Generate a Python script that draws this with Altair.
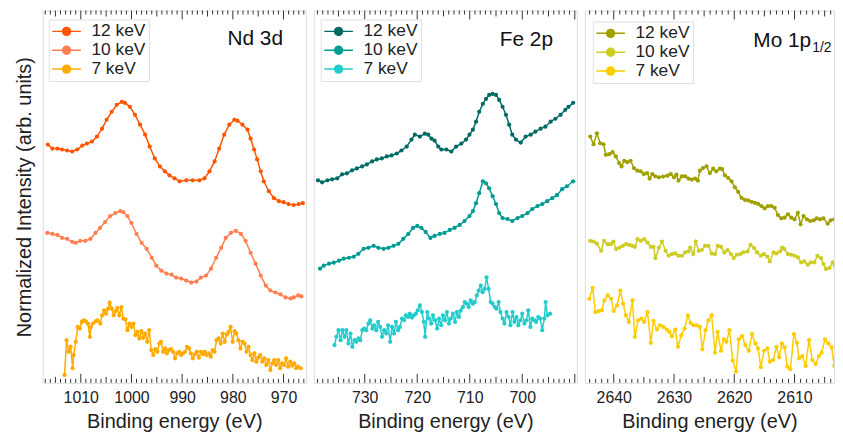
import altair as alt
import pandas as pd

FONT = "Liberation Sans"
H = 375
W = 265
W3 = 251
SERIES = ["12 keV", "10 keV", "7 keV"]

# ---------------- Nd 3d ----------------
nd_12 = [(1016.5,240),(1015.6,236),(1014.6,236),(1013.7,235),(1012.7,234),(1011.7,233),(1010.7,235),
         (1009.7,239),(1008.8,241),(1007.8,243),(1006.8,248),(1005.8,256),(1004.9,265),(1003.9,273),
         (1002.9,280),(1001.9,283),(1001.3,282),(1000.3,278),(999.3,270),(998.3,260),(997.3,250),
         (996.4,238),(995.4,226),(994.4,218),(993.4,213),(992.5,209),(991.5,206),(990.5,203),(989.2,204),
         (987.9,204),(986.6,204),(985.6,206),(984.6,213),(983.6,223),(982.7,236),(981.7,250),(980.7,260),
         (979.7,265),(979.1,264),(978.1,260),(977.1,255),(976.5,246),(975.8,235),(975.2,225),(974.5,213),
         (973.9,203),(972.9,193),(971.9,186),(970.9,183),(970.0,182),(969.0,180),(968.0,179),(967.0,180),
         (966.2,181)]
nd_10 = [(1016.6,151),(1015.6,150),(1014.6,149),(1013.7,146),(1012.7,145),(1011.7,142),(1011.0,141),
         (1010.1,143),(1009.1,143),(1008.1,145),(1007.1,151),(1006.2,156),(1005.2,162),(1004.2,168),
         (1003.2,171),(1002.2,173),(1001.6,172),(1000.8,168),(1000.0,161),(999.0,150),(998.0,141),
         (997.0,135),(996.0,126),(995.1,118),(994.1,113),(993.1,110),(992.1,109),(991.2,106),(990.2,105),
         (989.2,103),(988.2,101),(987.2,102),(986.3,106),(985.3,108),(984.3,115),(983.3,126),(982.3,136),
         (981.4,146),(980.4,151),(979.4,153),(978.4,150),(977.5,143),(976.5,131),(975.5,120),(974.5,108),
         (973.5,98),(972.6,93),(971.6,91),(970.6,89),(969.6,86),(968.6,85),(968.0,86),(967.1,88),(966.5,87)]
nd_7_E = [1013.2,1012.8,1012.4,1012.0,1011.6,1011.4,1011.0,1010.6,1010.2,1009.8,
          1009.4,1009.0,1008.6,1008.2,1008.0,1007.6,1007.1,1006.7,1006.15,1005.8,
          1005.4,1005.0,1004.6,1004.3,1003.9,1003.5,1003.15,1002.8,1002.4,1002.0,
          1001.6,1001.2,1000.8,1000.4,1000.0,999.6,999.2,998.8,998.45,998.05,
          997.7,997.3,996.9,996.5,996.1,995.7,995.3,994.9,994.5,994.15,
          993.75,993.35,993.0,992.6,992.2,991.8,991.4,991.0,990.6,990.2,
          989.85,989.45,989.05,988.65,988.3,987.9,987.5,987.1,986.7,986.3,
          985.9,985.55,985.15,984.75,984.35,984.0,983.6,983.2,982.8,982.4,
          982.0,981.6,981.2,980.85,980.45,980.05,979.65,979.3,978.9,978.5,
          978.1,977.7,977.3,976.9,976.5,976.15,975.75,975.35,975.0,974.6,
          974.2,973.8,973.4,973.0,972.6,972.2,971.85,971.45,971.05,970.65,
          970.3,969.9,969.5,969.1,968.7,968.3,967.9,967.5,967.15,966.6]
nd_7_I = [8,43,31.3,36.3,14.7,28,41.3,56.3,54.7,61.3,
          63,62,59.7,46.3,56.3,59.7,62,63,59.7,68,
          73,69.7,74.7,80.7,74.7,68,72,75.3,68,76.3,
          64.7,64,53,59.7,56.3,59.7,48,51.3,44.7,52,
          45.3,49.7,41.3,53,33,28,34,31.3,39.7,41.3,
          31.3,34.7,29.7,33,34,31.3,24.7,29.7,31.3,28,
          29.7,31.3,36.3,34.7,29.7,24.7,28.7,31.3,25.3,31.3,
          28.7,31.3,28,29.7,26.3,33,31.3,43,44.7,39.7,
          49.7,41.3,48.7,51.3,56.3,41.3,52,49.7,43,34.7,
          41.3,39.7,31.3,36.3,28,23,29.7,21.3,25.3,28,
          21.3,24.7,18,23,13,19.7,23,18,23,14.7,
          19.7,18,24.7,16.3,21.3,17.3,19.7,14.7,16.3,14.7]

# ---------------- Fe 2p ----------------
fe_12 = [(738.9,204),(738.1,202),(737.1,204),(736.2,205),(735.25,206),(734.3,210),(733.4,211),(732.4,214),
         (731.5,216),(730.5,218),(729.6,220),(728.6,223),(727.7,225),(726.75,226),(725.8,228),(724.9,229),
         (723.9,231),(723.0,234),(722.0,238),(721.1,245),(720.45,250),(719.5,248),(718.55,251),(717.9,250),
         (717.3,246),(716.7,244),(716.0,238),(715.4,235),(714.45,235),(713.5,233),(712.6,238),(711.6,241),
         (710.7,245),(710.05,250),(709.4,255),(708.8,263),(708.2,273),(707.5,281),(706.9,286),(706.3,290),
         (705.65,291),(705.0,290),(704.4,285),(703.75,278),(703.1,270),(702.5,260),(701.9,250),(701.2,245),
         (700.3,242),(699.35,248),(698.4,250),(697.5,253),(696.5,256),(695.6,258),(694.6,263),(693.7,266),
         (692.7,270),(691.8,275),(691.2,278),(690.3,282)]
fe_10 = [(738.5,115),(737.8,118),(736.8,120),(735.9,121),(734.9,123),(734.0,125),(733.0,126),(732.1,127),
         (731.2,130),(730.2,135),(729.3,136),(728.3,138),(727.4,136),(726.4,135),(725.5,136),(724.5,138),
         (723.6,140),(722.65,145),(721.7,150),(720.8,156),(720.0,158),(719.2,156),(718.4,152),(717.5,146),
         (716.7,148),(715.7,150),(714.8,151),(713.8,154),(712.9,156),(711.9,159),(711.0,163),(710.05,168),
         (709.4,173),(708.8,181),(708.2,191),(707.5,203),(706.9,201),(706.3,196),(705.65,188),(705.0,180),
         (704.4,171),(703.75,166),(702.8,165),(701.9,163),(700.9,166),(700.0,168),(699.0,171),(698.1,175),
         (697.1,178),(696.2,180),(695.25,183),(694.3,186),(693.4,189),(692.4,195),(691.5,198),(690.3,203)]
fe_7_E = [735.75,735.4,735.0,734.6,734.25,733.85,733.5,733.1,732.7,732.35,
          731.95,731.6,731.2,730.85,730.45,730.1,729.7,729.3,728.95,728.55,
          728.2,727.8,727.45,727.05,726.7,726.3,725.9,725.55,725.15,724.8,
          724.4,724.05,723.65,723.3,722.9,722.5,722.15,721.75,721.4,721.0,
          720.65,720.25,719.9,719.5,719.1,718.75,718.5,718.1,717.75,717.35,
          717.0,716.6,716.2,715.85,715.45,715.1,714.7,714.35,713.95,713.6,
          713.2,712.8,712.45,712.05,711.7,711.3,710.95,710.55,710.2,709.8,
          709.4,709.05,708.65,708.3,707.9,707.55,707.15,706.8,706.4,706.0,
          705.65,705.25,704.9,704.5,704.15,703.75,703.4,703.0,702.6,702.25,
          701.85,701.5,701.1,700.75,700.35,700.0,699.6,699.2,698.85,698.45,
          698.1,697.7,697.35,696.95,696.6,696.2,695.8,695.55,695.2,694.7]
fe_7_I = [38,46.3,53,43,53,46.3,53,39.7,49.7,36.3,
          43,41.3,44.7,43,53,54.7,53,59.7,63,54.7,
          58,53,61.3,56.3,46.3,53,49.7,58,41.3,56.3,
          49.7,61.3,53,56.3,64.7,63,68,66.3,69.7,65.7,
          68,69.7,73,78,71.3,61.3,46.3,71.3,64.7,59.7,
          68,63,54.7,64.7,58,68,63,71.3,59.7,64.7,
          69.7,61.3,71.3,66.3,73,76.3,81.3,79.7,76.3,83,
          79.7,81.3,88,93,98,91.3,94.7,106.3,94.7,81.3,
          79.7,76.3,74.7,81.3,71.3,64.7,59.7,71.3,66.3,58,
          71.3,61.3,66.3,58,63,69.7,59.7,63,73,56.3,
          64.7,63,61.3,66.3,64.7,53,64.7,81.3,68,69.7]

# ---------------- Mo 1p1/2 ----------------
mo_12_E = [2643.9,2643.35,2642.8,2642.25,2641.7,2641.3,2640.75,2640.2,2639.65,2639.1,
           2638.7,2638.25,2637.75,2637.2,2636.65,2636.1,2635.55,2635.0,2634.45,2634.05,
           2633.6,2633.1,2632.5,2631.8,2631.1,2630.55,2630.0,2629.6,2629.25,2628.7,
           2628.15,2627.6,2627.05,2626.5,2626.05,2625.7,2625.2,2624.6,2624.05,2623.5,
           2623.0,2622.4,2622.0,2621.55,2621.0,2620.45,2619.9,2619.35,2618.8,2618.25,
           2617.7,2617.15,2616.6,2616.05,2615.5,2614.95,2614.4,2613.85,2613.3,2612.75,
           2612.2,2611.65,2611.1,2610.55,2610.0,2609.45,2609.0,2608.5,2607.95,2607.4,
           2606.8,2606.3,2605.75,2605.2,2604.5,2604.0,2603.4,2602.7]
mo_12_I = [248,240.3,251.3,241.3,240.3,229.7,230.3,232.3,228,221.3,
           218,223.7,222.3,223.7,216.3,213.7,213,210.3,211.3,205.7,
           210.3,208,207,207.7,208.7,210.3,207,209.7,203.7,208,
           208,205.7,204.7,205.7,203.7,213.7,216.3,218,211.3,215.7,
           213,215.7,215.3,209,206.3,203,197,192.3,186.3,184.3,
           183.7,182.3,181.3,180.3,178,175.7,178,178,176.3,169,
           165.7,166.3,169.7,166.3,164.7,171.3,159.7,168,164.7,163,
           163.7,165.7,164.7,165.7,160.3,163.7,164.7,169.7]
mo_10_E = [2643.9,2643.35,2642.8,2642.1,2641.6,2641.0,2640.5,2640.05,2639.6,2639.05,
           2638.5,2637.95,2637.4,2636.9,2636.5,2636.05,2635.5,2634.95,2634.4,2633.85,
           2633.4,2633.1,2632.5,2632.0,2631.4,2630.9,2630.35,2629.8,2629.25,2628.7,
           2628.15,2627.6,2627.3,2626.8,2626.4,2625.9,2625.4,2624.85,2624.3,2623.75,
           2623.2,2622.75,2622.2,2621.65,2621.1,2620.55,2620.1,2619.6,2619.0,2618.5,
           2617.8,2617.3,2616.7,2616.2,2615.6,2615.1,2614.5,2614.1,2613.5,2613.0,
           2612.4,2612.05,2611.7,2611.1,2610.55,2610.0,2609.45,2608.9,2608.4,2607.8,
           2607.3,2606.7,2606.2,2605.6,2605.2,2604.8,2604.2,2603.65,2603.1,2602.55]
mo_10_I = [143,142.3,140.3,133,143,139.7,139.7,142.3,134.7,136.3,
           138,139.7,139,138,137,144.7,143,144.7,141.3,137,
           137,125.7,136.3,142.3,133,128,129.7,130.3,128,128,
           131.3,132.3,136.3,129.7,142.3,133,133.7,138,138,130.3,
           129.7,138,137,131.3,133.7,129.7,125.7,129,129.7,131.3,
           132.3,139,135.7,131.3,128,129.7,127,122.3,131.3,130.3,
           132.3,136.3,134.7,129.7,129,128,126.3,121.3,122.3,119,
           121.3,121.3,128,125.7,119.7,114.7,115.7,121.3,109,119.7]
mo_7_E = [2644.05,2643.5,2643.05,2642.5,2642.0,2641.55,2641.0,2640.45,2640.0,2639.45,
          2638.9,2638.45,2638.0,2637.5,2636.9,2636.5,2635.95,2635.4,2634.95,2634.4,
          2633.85,2633.4,2632.85,2632.3,2631.75,2631.2,2630.75,2630.35,2629.8,2629.35,
          2628.8,2628.25,2627.7,2627.25,2626.8,2626.25,2625.7,2625.3,2624.75,2624.3,
          2623.75,2623.2,2622.75,2622.2,2621.75,2621.3,2620.8,2620.25,2619.7,2619.25,
          2618.7,2618.15,2617.6,2617.05,2616.5,2616.05,2615.6,2615.05,2614.5,2614.1,
          2613.55,2613.0,2612.55,2612.1,2611.65,2611.2,2610.7,2610.1,2609.6,2609.25,
          2608.7,2608.15,2607.6,2607.05,2606.5,2605.95,2605.5,2604.95,2604.4,2603.85,
          2603.4,2602.9,2602.55]
mo_7_I = [84.7,95.7,71.3,72.3,73,83,88,84.7,72.3,78,
          93,79.7,68,61.3,83,46.3,63,64.7,61.3,71.3,
          40.3,62.3,53.7,58,56.3,53.7,51.3,47,53.7,36.3,
          48,54.7,67.7,60.3,58,58,56.3,33.7,53,63,
          68,30.3,51.3,32.3,43.7,41.3,53,22.3,11.3,43.7,
          47,38,32.3,49,39.7,34.7,15.7,32.3,34.7,21.3,
          23,36.3,25.7,39.7,35.7,16.3,13.7,49,40.3,24.7,
          27,17,43,23,19,27,30.3,43.7,39.7,35.7,
          17,18,38]

nd_colors = ["#ff5500", "#ff7f50", "#ffaa00"]
fe_colors = ["#006b66", "#009b93", "#22cccc"]
mo_colors = ["#a0a000", "#cccc22", "#ffcc00"]

nd_major = [1010, 1000, 990, 980, 970]
fe_major = [730, 720, 710, 700]
mo_major = [2640, 2630, 2620, 2610]

# legend glyph: short line with a filled circle in its middle
LEG_PATH = "M-1.8,0L1.8,0M0.5,0A0.5,0.5,0,1,1,-0.5,0A0.5,0.5,0,1,1,0.5,0Z"


def make_panel(curves, colors, domain, tick_lo, tick_hi, major, labels, leg_xy, width, ytitle=None):
    rows = []
    for name, pts in zip(SERIES, curves):
        for e, i in pts:
            rows.append({"E": e, "I": i, "s": name})
    df = pd.DataFrame(rows)

    trows = []
    for e in range(tick_lo, tick_hi + 1):
        ln = 9 if e % 10 == 0 else (6 if e % 5 == 0 else 4)
        trows.append({"E": e, "y0": 0, "y1": ln})
        trows.append({"E": e, "y0": H, "y1": H - ln})
    tdf = pd.DataFrame(trows)

    xsc = alt.Scale(domain=domain, reverse=True, nice=False, zero=False)
    ysc = alt.Scale(domain=[0, H], nice=False, zero=False)
    xax = alt.Axis(values=major, format="d", ticks=False, domain=False, grid=False,
                   labelFontSize=16, labelPadding=7, labelFont=FONT, labelColor="#222222",
                   title="Binding energy (eV)", titleFont=FONT, titleFontSize=20,
                   titleFontWeight="normal", titleColor="#222222", titlePadding=6)
    if ytitle:
        yax = alt.Axis(labels=False, ticks=False, domain=False, grid=False, title=ytitle,
                       titleFont=FONT, titleFontSize=20, titleFontWeight="normal",
                       titleColor="#222222", titlePadding=8)
    else:
        yax = None

    csc = alt.Scale(domain=SERIES, range=colors)
    leg = alt.Legend(orient="none", legendX=leg_xy[0], legendY=leg_xy[1], title=None,
                     symbolType=LEG_PATH, symbolSize=256, symbolStrokeWidth=1.5,
                     symbolOffset=6, labelOffset=16,
                     labelFont=FONT, labelFontSize=17.5, labelColor="#222222",
                     padding=3, rowPadding=1,
                     fillColor="white", strokeColor="#e0e0e0")

    X = alt.X("E:Q", scale=xsc, axis=xax)
    lines = alt.Chart(df).mark_line(strokeWidth=1.5, clip=True).encode(
        x=X, y=alt.Y("I:Q", scale=ysc, axis=yax),
        stroke=alt.Stroke("s:N", scale=csc, legend=leg))
    pts = alt.Chart(df).mark_circle(size=18, opacity=1, clip=True).encode(
        x=X, y=alt.Y("I:Q", scale=ysc, axis=yax),
        fill=alt.Fill("s:N", scale=csc, legend=leg))
    ticks = alt.Chart(tdf).mark_rule(color="#333333", strokeWidth=1).encode(
        x=X, y=alt.Y("y0:Q", scale=ysc, axis=yax), y2="y1:Q")

    layers = [ticks, lines, pts]
    for (txt, fs, px, py, al) in labels:
        layers.append(
            alt.Chart(pd.DataFrame({"t": [txt]})).mark_text(
                font=FONT, fontSize=fs, align=al, baseline="middle", color="#111111"
            ).encode(text="t:N", x=alt.value(px), y=alt.value(py))
        )
    return alt.layer(*layers).properties(width=width, height=H)


p1 = make_panel([nd_12, nd_10, list(zip(nd_7_E, nd_7_I))], nd_colors, [965.6, 1017.5],
                966, 1017, nd_major, [("Nd 3d", 21, 242, 29, "right")], (6, 9), W,
                ytitle="Normalized Intensity (arb. units)")
p2 = make_panel([fe_12, fe_10, list(zip(fe_7_E, fe_7_I))], fe_colors, [689.6, 739.7],
                690, 739, fe_major, [("Fe 2p", 21, 241, 30, "right")], (7, 9), W)
p3 = make_panel([list(zip(mo_12_E, mo_12_I)), list(zip(mo_10_E, mo_10_I)), list(zip(mo_7_E, mo_7_I))],
                mo_colors, [2603.45, 2644.8], 2604, 2644, mo_major,
                [("Mo 1p", 21, 228, 31, "right"), ("1/2", 14, 229, 38, "left")], (8, 11), W3)

chart = alt.hconcat(p1, p2, p3, spacing=6).resolve_scale(
    stroke="independent", fill="independent"
).resolve_legend(
    stroke="independent", fill="independent"
).properties(
    padding={"left": 6, "top": 0, "right": 0, "bottom": 0}
).configure_view(
    stroke="#333333", strokeWidth=1.5
).configure(font=FONT)

chart.save("out.html", embed_options={"renderer": "svg", "actions": False})
